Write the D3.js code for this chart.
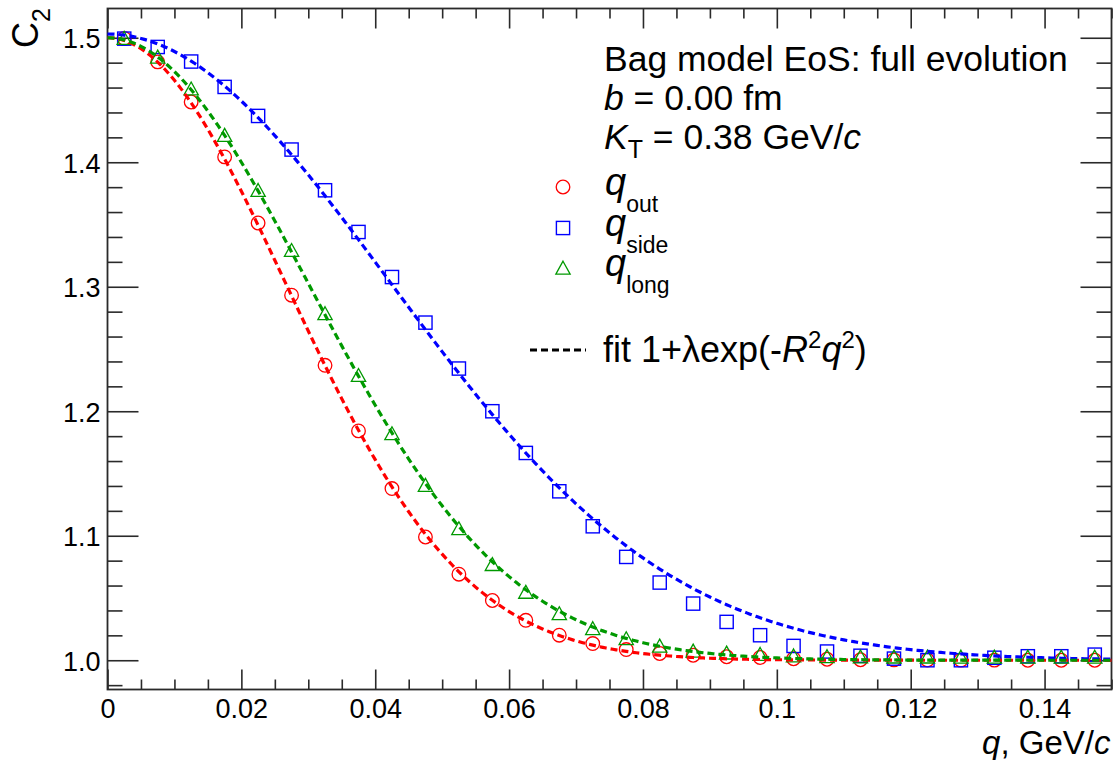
<!DOCTYPE html>
<html>
<head>
<meta charset="utf-8">
<script src="https://cdn.jsdelivr.net/npm/d3@7"></script>
<style>
  body { margin: 0; background: #fff; }
  svg { display: block; }
  text { font-family: "Liberation Sans", Arial, Helvetica, sans-serif; fill: #000; }
</style>
</head>
<body>
<svg id="chart" width="1119" height="760"></svg>
<script>
// Bin centres of the pair momentum difference q (GeV/c)
const qBins = [0.0025, 0.0075, 0.0125, 0.0175, 0.0225, 0.0275, 0.0325, 0.0375, 0.0425, 0.0475,
               0.0525, 0.0575, 0.0625, 0.0675, 0.0725, 0.0775, 0.0825, 0.0875, 0.0925, 0.0975,
               0.1025, 0.1075, 0.1125, 0.1175, 0.1225, 0.1275, 0.1325, 0.1375, 0.1425, 0.1475];

// Correlation function C2 projections
const c2Out  = [1.4995, 1.4806, 1.4484, 1.4043, 1.3512, 1.2932, 1.2369, 1.1842, 1.1379, 1.0990,
                1.0691, 1.0480, 1.0321, 1.0201, 1.0134, 1.0086, 1.0054, 1.0040, 1.0028, 1.0022,
                1.0012, 1.0008, 1.0004, 1.0003, 1.0002, 1.0001, 1.0001, 1.0000, 1.0000, 1.0000];
const c2Side = [1.4993, 1.4926, 1.4809, 1.4605, 1.4372, 1.4102, 1.3775, 1.3440, 1.3078, 1.2712,
                1.2343, 1.2000, 1.1665, 1.1357, 1.1076, 1.0830, 1.0624, 1.0455, 1.0308, 1.0201,
                1.0115, 1.0070, 1.0036, 1.0013, 1.0000, 1.0000, 1.0020, 1.0032, 1.0032, 1.0045];
const c2Long = [1.4996, 1.4846, 1.4590, 1.4217, 1.3775, 1.3293, 1.2785, 1.2289, 1.1821, 1.1406,
                1.1058, 1.0770, 1.0547, 1.0375, 1.0255, 1.0174, 1.0115, 1.0075, 1.0059, 1.0048,
                1.0036, 1.0030, 1.0028, 1.0027, 1.0027, 1.0026, 1.0026, 1.0026, 1.0026, 1.0026];

// Gaussian fit parameters 1 + lambda*exp(-R^2 q^2): out, side, long
const fitNames  = ["out", "side", "long"];
const fitLambda = [0.500, 0.503, 0.500];
const fitRadius = [5.25, 3.32, 4.66];   // fm
const hbarc = 0.19733;                  // GeV fm

// Axis ticks
const xMajor = [0, 0.02, 0.04, 0.06, 0.08, 0.10, 0.12, 0.14];
const xTickLabels = ["0", "0.02", "0.04", "0.06", "0.08", "0.1", "0.12", "0.14"];
const yMajor = [1.0, 1.1, 1.2, 1.3, 1.4, 1.5];
const yTickLabels = ["1.0", "1.1", "1.2", "1.3", "1.4", "1.5"];

const frame = { left: 107.5, right: 1111.5, top: 8.5, bottom: 689.5 };
const axisColor = "#2a2a2a";
const colOut = "#ff0000", colSide = "#0000ff", colLong = "#009900";
const tickFont = 27;

const svg = d3.select("#chart");
const x = d3.scaleLinear().domain([0, 0.15]).range([frame.left, frame.right]);
const y = d3.scaleLinear().domain([0.9765, 1.5235]).range([frame.bottom, frame.top]);

// minor tick positions
const xMinor = d3.range(0, 0.1500001, 0.005).filter(v => Math.abs(v / 0.02 - Math.round(v / 0.02)) > 1e-6);
const yMinor = d3.range(0.98, 1.52, 0.02).filter(v => Math.abs(v * 10 - Math.round(v * 10)) > 1e-6);

function styleAxis(g) {
  g.select(".domain").remove();
  g.selectAll(".tick line").attr("stroke", axisColor).attr("stroke-width", 1.6);
}

const fmtX = (d) => xTickLabels[xMajor.findIndex(v => Math.abs(v - d) < 1e-9)];
const fmtY = (d) => yTickLabels[yMajor.findIndex(v => Math.abs(v - d) < 1e-9)];

// bottom axis
const gB = svg.append("g").attr("transform", `translate(0,${frame.bottom})`)
  .call(d3.axisBottom(x).tickValues(xMajor).tickSize(-20).tickSizeOuter(0).tickFormat(fmtX)).call(styleAxis);
gB.selectAll("text").attr("y", 28).attr("dy", null).attr("font-size", tickFont)
  .style("font-family", '"Liberation Sans", Arial, sans-serif').attr("fill", "#000");
svg.append("g").attr("transform", `translate(0,${frame.bottom})`)
  .call(d3.axisBottom(x).tickValues(xMinor).tickSize(-10).tickSizeOuter(0).tickFormat("")).call(styleAxis);
// top axis
svg.append("g").attr("transform", `translate(0,${frame.top})`)
  .call(d3.axisTop(x).tickValues(xMajor).tickSize(-20).tickSizeOuter(0).tickFormat("")).call(styleAxis);
svg.append("g").attr("transform", `translate(0,${frame.top})`)
  .call(d3.axisTop(x).tickValues(xMinor).tickSize(-10).tickSizeOuter(0).tickFormat("")).call(styleAxis);
// left axis
const gL = svg.append("g").attr("transform", `translate(${frame.left},0)`)
  .call(d3.axisLeft(y).tickValues(yMajor).tickSize(-31).tickSizeOuter(0).tickFormat(fmtY)).call(styleAxis);
gL.selectAll("text").attr("x", -7).attr("dy", null).attr("y", 10).attr("font-size", tickFont)
  .style("font-family", '"Liberation Sans", Arial, sans-serif').attr("fill", "#000");
svg.append("g").attr("transform", `translate(${frame.left},0)`)
  .call(d3.axisLeft(y).tickValues(yMinor).tickSize(-15).tickSizeOuter(0).tickFormat("")).call(styleAxis);
// right axis
svg.append("g").attr("transform", `translate(${frame.right},0)`)
  .call(d3.axisRight(y).tickValues(yMajor).tickSize(-31).tickSizeOuter(0).tickFormat("")).call(styleAxis);
svg.append("g").attr("transform", `translate(${frame.right},0)`)
  .call(d3.axisRight(y).tickValues(yMinor).tickSize(-15).tickSizeOuter(0).tickFormat("")).call(styleAxis);

// frame
svg.append("rect")
  .attr("x", frame.left).attr("y", frame.top)
  .attr("width", frame.right - frame.left).attr("height", frame.bottom - frame.top)
  .attr("fill", "none").attr("stroke", axisColor).attr("stroke-width", 1.8);

// data markers
const plot = svg.append("g");
const trianglePath = (s) => `M0,${-s}L${s * 1.05},${s * 0.9}L${-s * 1.05},${s * 0.9}Z`;

plot.append("g").selectAll("circle").data(qBins.map((q, i) => [q, c2Out[i]])).join("circle")
  .attr("cx", d => x(d[0])).attr("cy", d => y(d[1])).attr("r", 6.8)
  .attr("fill", "none").attr("stroke", colOut).attr("stroke-width", 1.3);
plot.append("g").selectAll("rect").data(qBins.map((q, i) => [q, c2Side[i]])).join("rect")
  .attr("x", d => x(d[0]) - 6.6).attr("y", d => y(d[1]) - 6.6).attr("width", 13.2).attr("height", 13.2)
  .attr("fill", "none").attr("stroke", colSide).attr("stroke-width", 1.4);
plot.append("g").selectAll("path").data(qBins.map((q, i) => [q, c2Long[i]])).join("path")
  .attr("transform", d => `translate(${x(d[0])},${y(d[1])})`).attr("d", trianglePath(6.8))
  .attr("fill", "none").attr("stroke", colLong).attr("stroke-width", 1.3);

// fit curves
const qFine = d3.range(0, 0.15 + 1e-9, 0.0005);
const fitColors = [colOut, colSide, colLong];
fitNames.forEach((name, k) => {
  const R = fitRadius[k] / hbarc;
  const line = d3.line().x(q => x(q)).y(q => y(1 + fitLambda[k] * Math.exp(-R * R * q * q)));
  plot.append("path").datum(qFine).attr("d", line)
    .attr("fill", "none").attr("stroke", fitColors[k]).attr("stroke-width", 3.2)
    .attr("stroke-dasharray", "7,4");
});

// axis titles
const xt = svg.append("text").attr("x", frame.right - 1).attr("y", 754).attr("text-anchor", "end").attr("font-size", 33);
xt.append("tspan").attr("font-style", "italic").text("q");
xt.append("tspan").text(", GeV/");
xt.append("tspan").attr("font-style", "italic").text("c");

const yt = svg.append("text").attr("transform", "translate(38,8) rotate(-90)").attr("text-anchor", "end").attr("font-size", 36);
yt.append("tspan").text("C");
yt.append("tspan").attr("font-size", 25).attr("dy", 12).text("2");

// annotation text
const info = svg.append("g").attr("font-size", 35.5);
info.append("text").attr("x", 604).attr("y", 71).text("Bag model EoS: full evolution");
const tb = info.append("text").attr("x", 604).attr("y", 110);
tb.append("tspan").attr("font-style", "italic").text("b");
tb.append("tspan").text(" = 0.00 fm");
const tk = info.append("text").attr("x", 604).attr("y", 149);
tk.append("tspan").attr("font-style", "italic").text("K");
tk.append("tspan").attr("font-size", 25).attr("dy", 9).text("T");
tk.append("tspan").attr("dy", -9).text(" = 0.38 GeV/");
tk.append("tspan").attr("font-style", "italic").text("c");

// legend
const legendMarkers = [
  { sub: "out",  y: 187, color: colOut,  kind: "circle" },
  { sub: "side", y: 228, color: colSide, kind: "square" },
  { sub: "long", y: 268, color: colLong, kind: "triangle" }
];
const lg = svg.append("g");
legendMarkers.forEach(m => {
  if (m.kind === "circle") {
    lg.append("circle").attr("cx", 563).attr("cy", m.y).attr("r", 6.8)
      .attr("fill", "none").attr("stroke", m.color).attr("stroke-width", 1.3);
  } else if (m.kind === "square") {
    lg.append("rect").attr("x", 563 - 6.6).attr("y", m.y - 6.6).attr("width", 13.2).attr("height", 13.2)
      .attr("fill", "none").attr("stroke", m.color).attr("stroke-width", 1.4);
  } else {
    lg.append("path").attr("transform", `translate(563,${m.y})`).attr("d", trianglePath(6.8))
      .attr("fill", "none").attr("stroke", m.color).attr("stroke-width", 1.3);
  }
  const t = lg.append("text").attr("x", 605).attr("y", m.y + 8).attr("font-size", 38);
  t.append("tspan").attr("font-style", "italic").text("q");
  t.append("tspan").attr("font-size", 23).attr("dy", 17).text(m.sub);
});
lg.append("line").attr("x1", 530).attr("x2", 586).attr("y1", 350).attr("y2", 350)
  .attr("stroke", "#000").attr("stroke-width", 3.2).attr("stroke-dasharray", "7,4");
const ft = lg.append("text").attr("x", 603).attr("y", 362).attr("font-size", 36);
ft.append("tspan").text("fit 1+\u03bbexp(-");
ft.append("tspan").attr("font-style", "italic").text("R");
ft.append("tspan").attr("font-size", 24).attr("dy", -14).text("2");
ft.append("tspan").attr("font-style", "italic").attr("dy", 14).text("q");
ft.append("tspan").attr("font-size", 24).attr("dy", -14).text("2");
ft.append("tspan").attr("dy", 14).text(")");
</script>
</body>
</html>
